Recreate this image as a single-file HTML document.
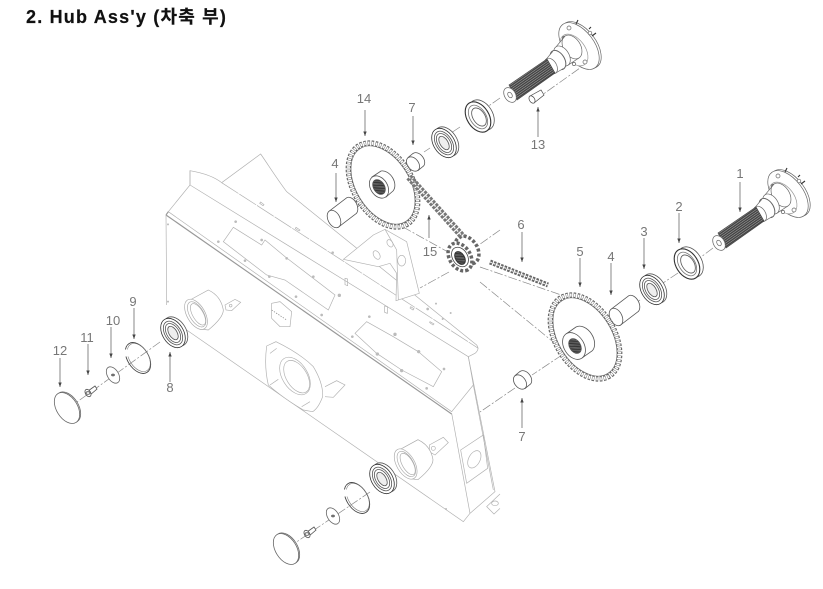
<!DOCTYPE html>
<html><head><meta charset="utf-8"><style>
html,body{margin:0;padding:0;background:#fff;width:823px;height:589px;overflow:hidden}
svg{position:absolute;left:0;top:0}
text{font-family:"Liberation Sans","Noto Sans CJK KR",sans-serif}
</style></head><body>
<svg width="823" height="589" viewBox="0 0 823 589" xmlns="http://www.w3.org/2000/svg">
<defs>
<filter id="b" x="0" y="0" width="100%" height="100%"><feGaussianBlur stdDeviation="0.3"/></filter>
<marker id="a" markerWidth="5" markerHeight="6" refX="4.5" refY="2.5" orient="auto" markerUnits="userSpaceOnUse"><path d="M0 .8L4.5 2.5L0 4.2z" fill="#444"/></marker>
<pattern id="sp" width="2" height="2" patternUnits="userSpaceOnUse" patternTransform="rotate(-35)"><rect width="2" height="2" fill="#444"/><rect width="2" height=".5" fill="#aaa"/></pattern>
<pattern id="dk" width="1.6" height="1.6" patternUnits="userSpaceOnUse" patternTransform="rotate(30)"><rect width="1.6" height="1.6" fill="#333"/><rect width=".5" height="1.6" fill="#888"/></pattern>

<g id="hub" fill="#fff" stroke="#666" stroke-width=".7">
 <ellipse cx="581" cy="45" rx="27" ry="15" transform="rotate(53 581 45)"/>
 <ellipse cx="579" cy="46" rx="27" ry="15" transform="rotate(53 579 46)"/>
 <ellipse cx="574" cy="50" rx="18" ry="11" transform="rotate(53 574 50)" stroke="#999"/>
 <circle cx="569" cy="28" r="2"/><circle cx="590" cy="33" r="1.8"/><circle cx="585" cy="62" r="2"/><circle cx="564" cy="38" r="1.6"/><circle cx="574" cy="64" r="1.6"/>
 <path d="M576 24L578 20M592 36L596 33M589 29L591 27" stroke="#333" stroke-width="1.1"/>
 <path d="M565.1 36L578.9 58L567.8 65.3L556.2 46.7z" stroke="none"/>
 <ellipse cx="572" cy="47" rx="13" ry="8.5" transform="rotate(58 572 47)"/>
 <path d="M565.1 36L556.2 46.7M578.9 58L567.8 65.3" fill="none"/>
 <ellipse cx="562" cy="56" rx="11" ry="7" transform="rotate(58 562 56)"/>
 <ellipse cx="558" cy="60" rx="10.5" ry="6.5" transform="rotate(58 558 60)" stroke-width="1"/>
 <path d="M552.7 51.5L563.3 68.5L555.5 73.2L546.5 58.8z" stroke="none"/>
 <path d="M552.7 51.5L546.5 58.8M563.3 68.5L555.5 73.2" fill="none"/>
 <ellipse cx="551" cy="66" rx="8.5" ry="5.5" transform="rotate(58 551 66)"/>
 <path d="M509 85L547 59L555 73L517 100z" fill="url(#sp)" stroke="#444"/>
 <ellipse cx="510" cy="95" rx="8" ry="5.5" transform="rotate(58 510 95)"/>
 <ellipse cx="510" cy="95" rx="3" ry="2" transform="rotate(58 510 95)"/>
</g>

<g id="brg" fill="#fff" stroke="#555" stroke-width=".8">
 <ellipse cx="2.5" cy="-1.5" rx="16" ry="10.5" transform="rotate(58 2.5 -1.5)"/>
 <ellipse cx="0" cy="0" rx="16" ry="10.5" transform="rotate(58)" stroke="#333"/>
 <ellipse cx="0" cy="0" rx="13" ry="8" transform="rotate(58)"/>
 <ellipse cx="0" cy="0" rx="10.5" ry="6.2" transform="rotate(58)"/>
 <ellipse cx="0" cy="0" rx="7.5" ry="4" transform="rotate(58)" fill="#eee"/>
</g>
<g id="seal" fill="#fff" stroke="#555" stroke-width=".8">
 <ellipse cx="3.5" cy="-2" rx="16.5" ry="11" transform="rotate(58 3.5 -2)"/>
 <ellipse cx="0" cy="0" rx="16.5" ry="11" transform="rotate(58)" stroke="#333" stroke-width="1.1"/>
 <ellipse cx="0" cy="0" rx="13" ry="8" transform="rotate(58)" stroke="#777"/>
 <ellipse cx="1" cy="0" rx="10" ry="6" transform="rotate(58 1 0)"/>
</g>
<g id="tube" fill="#fff" stroke="#555" stroke-width=".8">
 <path d="M-4.2 -8.3L12.8 -21.3A9.3 6 63 0 1 21.2 -4.7L4.2 8.3z"/>
 <ellipse cx="0" cy="0" rx="9.3" ry="6" transform="rotate(63)"/>
</g>
<g id="bush" fill="#fff" stroke="#555" stroke-width=".8">
 <path d="M-5 -6.5L0 -10.5A8 5.5 52 0 1 10 2.5L5 6.5z"/>
 <ellipse cx="0" cy="0" rx="8" ry="5.5" transform="rotate(52)"/>
</g>
<g id="sprk" fill="#fff">
 <ellipse cx="0" cy="0" rx="46" ry="29" transform="rotate(58)" stroke="#666" stroke-width="5.5" stroke-dasharray="2.4 1.5"/>
 <ellipse cx="0" cy="0" rx="46" ry="29" transform="rotate(58)" fill="none" stroke="#fff" stroke-width="3.2" stroke-dasharray="1.5 2.4" stroke-dashoffset="-.45"/>
 <ellipse cx="0" cy="0" rx="43" ry="26.5" transform="rotate(58)" stroke="#666" stroke-width=".7"/>
</g>
<g id="clip" fill="none" stroke="#444">
 <ellipse cx="0" cy="0" rx="17" ry="10.5" transform="rotate(58)" stroke-width=".9"/>
 <ellipse cx=".8" cy="-.5" rx="15.5" ry="9.5" transform="rotate(58 .8 -.5)" stroke-width=".6" stroke="#777"/>
 <rect x="-16" y="-8.5" width="8" height="7" fill="#fff" stroke="none"/>
</g>
<g id="wash" fill="#fff" stroke="#666" stroke-width=".8">
 <ellipse cx="0" cy="0" rx="9" ry="5.5" transform="rotate(58)"/><ellipse cx="0" cy="0" rx="1.5" ry="1" fill="#777"/>
</g>
<g id="bolt" fill="#fff" stroke="#555" stroke-width=".8">
 <path d="M0 -2L7 -7L9 -4L2 2z"/><ellipse cx="0" cy="0" rx="4" ry="2.6" transform="rotate(58)"/><ellipse cx="0" cy="0" rx="2" ry="1.3"/>
</g>
<g id="cap" fill="#fff" stroke="#666" stroke-width=".8">
 <ellipse cx="1" cy="-.6" rx="17" ry="10.5" transform="rotate(58 1 -.6)"/>
 <ellipse cx="0" cy="0" rx="17" ry="10.5" transform="rotate(58)"/>
</g>
<g id="bore" fill="#fff" stroke="#aaa" stroke-width="2">
 <path d="M-18 -43L37 -73Q75 -55 82 -13Q82 10 37 47L20 45z"/>
 <ellipse cx="0" cy="0" rx="50" ry="27" transform="rotate(60)"/>
 <ellipse cx="2" cy="0" rx="42" ry="21" transform="rotate(60 2 0)"/>
 <ellipse cx="6" cy="0" rx="36" ry="16" transform="rotate(60 6 0)"/>
</g>
</defs>

<g filter="url(#b)">
<!-- frame, in 3x coordinates -->
<g transform="translate(140 140) scale(.33333)" fill="none" stroke="#b0b0b0" stroke-width="2">
 <path d="M150 92C185 98 220 108 245 128L362 42C385 75 410 115 440 155L1010 615Q1020 628 1005 640L985 650L1000 735L935 815L85 215L150 135z" fill="#fff"/>
 <path d="M150 92L150 135L985 650"/>
 <path d="M245 128L1015 625" stroke-dasharray="60 3"/>
 <path d="M78 225L85 215M78 225L935 822" stroke="#999" stroke-width="3.5"/>
 <path d="M78 225L80 495M140 570L970 1145L990 1120L935 820"/>
 <path d="M985 650L1065 1055L990 1120"/>
 <path d="M1000 735L1060 1050"/>
 <path d="M280 262L365 315L375 300L435 350L585 465L565 510L435 420L380 405L250 305z"/>
 <path d="M680 545L760 590L835 635L905 695L880 740L785 690L710 640L645 580z"/>
 <path d="M610 358L700 285L735 268L800 305L838 460L768 482L770 400L750 370L715 380z" fill="#fff"/>
 <path d="M735 268L770 330L775 480"/>
 <ellipse cx="710" cy="345" rx="14" ry="9" transform="rotate(58 710 345)"/>
 <ellipse cx="750" cy="310" rx="12" ry="8" transform="rotate(58 750 310)"/>
 <ellipse cx="785" cy="362" rx="12" ry="16"/>
 <path d="M395 490L420 485L455 515L450 560L420 560L395 535z"/><path d="M395 510L440 540" stroke="#777" stroke-dasharray="4 4"/>
 <path d="M380 618L408 605Q480 640 520 680Q550 730 548 770Q535 805 518 815L490 810Q430 775 385 735Q372 680 380 618z" fill="#fff"/>
 <ellipse cx="465" cy="708" rx="62" ry="38" transform="rotate(58 465 708)"/>
 <ellipse cx="470" cy="710" rx="54" ry="31" transform="rotate(58 470 710)"/>
 <path d="M555 740L590 722L615 735L580 772L555 770"/>
 <path d="M390 735L415 718M485 800L510 785M390 640L410 625"/>
 <path d="M962 930L1030 885L1043 985L980 1030z"/>
 <ellipse cx="1003" cy="958" rx="28" ry="17" transform="rotate(-62 1003 958)"/>
 <path d="M1080 1062L1040 1100L1062 1122L1080 1105"/>
 <ellipse cx="1065" cy="1090" rx="10" ry="7"/>
 <path d="M255 495L285 478L302 487L275 512L258 510z"/><circle cx="272" cy="497" r="4"/>
 <path d="M868 915L910 892L925 908L885 945L868 935z"/><circle cx="880" cy="925" r="6"/>
 <use href="#bore" x="168" y="523"/>
 <use href="#bore" x="797" y="972"/>
 <g fill="#bbb" stroke="none">
  <circle cx="287" cy="245" r="4"/><circle cx="235" cy="305" r="4"/><circle cx="365" cy="300" r="4"/><circle cx="315" cy="362" r="4"/><circle cx="440" cy="355" r="4"/><circle cx="388" cy="410" r="4"/><circle cx="520" cy="410" r="4"/><circle cx="468" cy="470" r="4"/><circle cx="598" cy="466" r="5"/><circle cx="545" cy="525" r="4"/><circle cx="688" cy="530" r="4"/><circle cx="637" cy="590" r="4"/><circle cx="765" cy="583" r="5"/><circle cx="712" cy="642" r="5"/><circle cx="836" cy="635" r="5"/><circle cx="785" cy="692" r="5"/><circle cx="912" cy="687" r="4"/><circle cx="860" cy="745" r="4"/><circle cx="578" cy="338" r="4"/><circle cx="863" cy="507" r="4"/><circle cx="888" cy="491" r="3"/><circle cx="932" cy="519" r="3"/><circle cx="908" cy="537" r="3"/><circle cx="84" cy="253" r="3"/><circle cx="84" cy="485" r="3"/><circle cx="918" cy="1107" r="3"/>
 </g>
 <path d="M362 186l10 8-3 3-10-7zM468 262l12 8-3 3-11-7zM812 500l10 6-3 4-9-6zM870 545l12 7-3 3-10-7z"/>
 <path d="M615 415l8 2v20l-8-3zM734 498l8 2v20l-8-3z"/>
</g>

<!-- centre lines -->
<g fill="none" stroke="#888" stroke-width=".7" stroke-dasharray="9 2 2 2">
 <path d="M500 98L473 117"/><path d="M460 127L448 135"/><path d="M430 148L424 152"/><path d="M405 166L394 172"/><path d="M362 204L352 211"/>
 <path d="M535 100L580 68"/>
 <path d="M500 230L476 247"/><path d="M449 272L420 288"/>
 <path d="M403 227L448 252"/><path d="M480 267L567 297"/><path d="M480 282L563 350"/>
 <path d="M562 355L532 375"/><path d="M515 388L480 412"/>
 <path d="M713 248L697 260"/><path d="M678 273L663 283"/><path d="M640 300L633 305"/>
 <path d="M160 342L77 402"/><path d="M370 492L295 543"/>
</g>

<!-- upper hub group -->
<use href="#hub"/>
<use href="#hub" x="209" y="148"/>
<g fill="#fff" stroke="#444" stroke-width=".7">
 <path d="M530 96L541 90L544 95L534 103z"/><ellipse cx="532" cy="99.5" rx="4" ry="2.6" transform="rotate(58 532 99.5)"/>
</g>
<use href="#seal" x="478" y="117"/>
<use href="#brg" x="444" y="143"/>
<use href="#seal" x="687" y="264"/>
<use href="#brg" x="652" y="290"/>
<use href="#bush" x="413" y="164"/>
<use href="#bush" x="520" y="382"/>
<use href="#tube" x="334" y="219"/>
<use href="#tube" x="616" y="317"/>

<!-- sprockets -->
<use href="#sprk" x="383" y="185"/>
<use href="#sprk" x="585" y="337"/>
<g fill="#fff" stroke="#555" stroke-width=".8">
 <path d="M372 177L381 171A12 8.5 58 0 1 393 191L386 197z"/>
 <ellipse cx="379" cy="187" rx="12" ry="8.5" transform="rotate(58 379 187)"/>
 <ellipse cx="379" cy="187" rx="8" ry="5.5" transform="rotate(58 379 187)" fill="url(#dk)"/>
 <path d="M566 334L576 327A14.5 10 58 0 1 592 351L582 358z"/>
 <ellipse cx="574" cy="346" rx="14.5" ry="10" transform="rotate(58 574 346)"/>
 <ellipse cx="575" cy="346" rx="8" ry="5.5" transform="rotate(58 575 346)" fill="url(#dk)"/>
</g>
<!-- small sprocket -->
<g fill="#fff">
 <ellipse cx="467" cy="250" rx="15" ry="10.5" transform="rotate(58 467 250)" stroke="#666" stroke-width="3.5" stroke-dasharray="3 2"/>
 <ellipse cx="460" cy="257" rx="15" ry="10.5" transform="rotate(58 460 257)" stroke="#666" stroke-width="3.5" stroke-dasharray="3 2"/>
 <ellipse cx="460" cy="257" rx="10.5" ry="7.5" transform="rotate(58 460 257)" stroke="#444" stroke-width=".8"/>
 <ellipse cx="460" cy="258" rx="7" ry="4.5" transform="rotate(58 460 258)" fill="url(#dk)" stroke="#333"/>
</g>
<!-- chains -->
<path d="M409 177L463 237" stroke="#777" stroke-width="7" fill="none" stroke-dasharray="3 1.2"/>
<path d="M409 177L463 237" stroke="#eee" stroke-width="1.4" fill="none" stroke-dasharray="2 2.2"/>
<path d="M490 262L548 285" stroke="#666" stroke-width="5" fill="none" stroke-dasharray="2.6 1.2"/>
<path d="M490 262L548 285" stroke="#eee" stroke-width="1.2" fill="none" stroke-dasharray="2 1.8"/>

<!-- left parts -->
<use href="#brg" x="173" y="333"/>
<use href="#clip" x="138" y="358"/>
<use href="#wash" x="113" y="375"/>
<use href="#bolt" x="88" y="393"/>
<use href="#cap" x="67" y="408"/>
<use href="#brg" x="382" y="479"/>
<use href="#clip" x="357" y="498"/>
<use href="#wash" x="333" y="516"/>
<use href="#bolt" x="307" y="534"/>
<use href="#cap" x="286" y="549"/>

<!-- arrows -->
<g stroke="#555" stroke-width=".7" fill="none">
 <line x1="365" y1="110" x2="365" y2="136" marker-end="url(#a)"/>
 <line x1="413" y1="116" x2="413" y2="145" marker-end="url(#a)"/>
 <line x1="336" y1="173" x2="336" y2="202" marker-end="url(#a)"/>
 <line x1="538" y1="137" x2="538" y2="107" marker-end="url(#a)"/>
 <line x1="429" y1="238" x2="429" y2="215" marker-end="url(#a)"/>
 <line x1="522" y1="232" x2="522" y2="262" marker-end="url(#a)"/>
 <line x1="580" y1="258" x2="580" y2="287" marker-end="url(#a)"/>
 <line x1="611" y1="263" x2="611" y2="295" marker-end="url(#a)"/>
 <line x1="644" y1="238" x2="644" y2="269" marker-end="url(#a)"/>
 <line x1="679" y1="213" x2="679" y2="243" marker-end="url(#a)"/>
 <line x1="740" y1="182" x2="740" y2="212" marker-end="url(#a)"/>
 <line x1="522" y1="428" x2="522" y2="398" marker-end="url(#a)"/>
 <line x1="170" y1="382" x2="170" y2="352" marker-end="url(#a)"/>
 <line x1="134" y1="308" x2="134" y2="339" marker-end="url(#a)"/>
 <line x1="111" y1="327" x2="111" y2="358" marker-end="url(#a)"/>
 <line x1="88" y1="344" x2="88" y2="375" marker-end="url(#a)"/>
 <line x1="60" y1="358" x2="60" y2="387" marker-end="url(#a)"/>
</g>

<!-- labels -->
<g font-size="13" fill="#777" text-anchor="middle">
 <text x="364" y="103">14</text><text x="412" y="112">7</text><text x="335" y="168">4</text>
 <text x="538" y="149">13</text><text x="430" y="256">15</text><text x="521" y="229">6</text>
 <text x="580" y="256">5</text><text x="611" y="261">4</text><text x="644" y="236">3</text>
 <text x="679" y="211">2</text><text x="740" y="178">1</text><text x="522" y="441">7</text>
 <text x="170" y="392">8</text><text x="133" y="306">9</text><text x="113" y="325">10</text>
 <text x="87" y="342">11</text><text x="60" y="355">12</text>
</g>
</g>
<text x="26" y="23" font-size="18" font-weight="700" fill="#111" stroke="#111" stroke-width=".2" style="letter-spacing:1.2px">2. Hub Ass'y (차축 부)</text>
</svg>
</body></html>
